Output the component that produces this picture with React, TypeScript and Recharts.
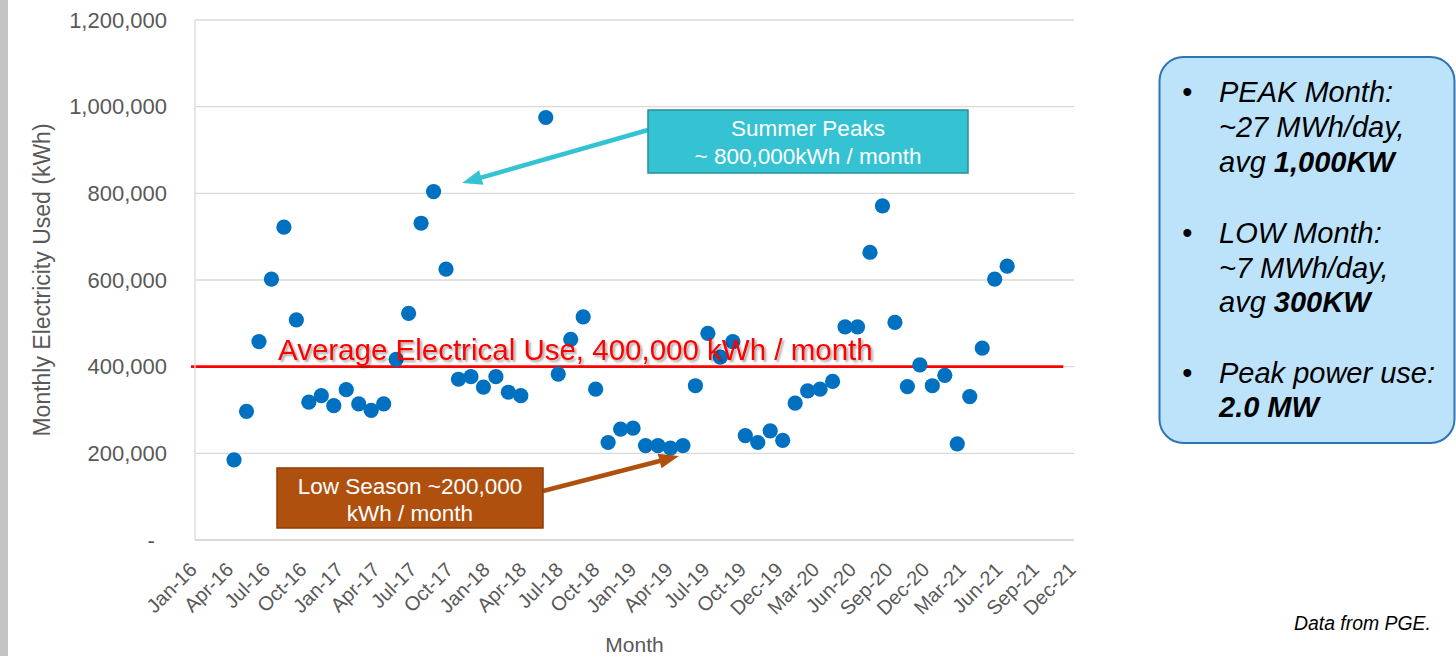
import React from 'react'
import {
  ScatterChart,
  Scatter,
  XAxis,
  YAxis,
  CartesianGrid,
  ReferenceLine,
} from 'recharts'

// axis tick labels (Excel date axis, evenly spaced)
const TICK_LABELS = [
  'Jan-16', 'Apr-16', 'Jul-16', 'Oct-16', 'Jan-17', 'Apr-17', 'Jul-17', 'Oct-17',
  'Jan-18', 'Apr-18', 'Jul-18', 'Oct-18', 'Jan-19', 'Apr-19', 'Jul-19', 'Oct-19',
  'Dec-19', 'Mar-20', 'Jun-20', 'Sep-20', 'Dec-20', 'Mar-21', 'Jun-21', 'Sep-21', 'Dec-21',
]
const Y_TICKS = [0, 200000, 400000, 600000, 800000, 1000000, 1200000]

// monthly bills, Apr-16 .. Jun-21 (Apr-18 has no reading)
const MONTHS = [
  'Apr-16', 'May-16', 'Jun-16', 'Jul-16', 'Aug-16', 'Sep-16', 'Oct-16', 'Nov-16', 'Dec-16',
  'Jan-17', 'Feb-17', 'Mar-17', 'Apr-17', 'May-17', 'Jun-17', 'Jul-17', 'Aug-17', 'Sep-17', 'Oct-17', 'Nov-17', 'Dec-17',
  'Jan-18', 'Feb-18', 'Mar-18', 'Apr-18', 'May-18', 'Jun-18', 'Jul-18', 'Aug-18', 'Sep-18', 'Oct-18', 'Nov-18', 'Dec-18',
  'Jan-19', 'Feb-19', 'Mar-19', 'Apr-19', 'May-19', 'Jun-19', 'Jul-19', 'Aug-19', 'Sep-19', 'Oct-19', 'Nov-19', 'Dec-19',
  'Jan-20', 'Feb-20', 'Mar-20', 'Apr-20', 'May-20', 'Jun-20', 'Jul-20', 'Aug-20', 'Sep-20', 'Oct-20', 'Nov-20', 'Dec-20',
  'Jan-21', 'Feb-21', 'Mar-21', 'Apr-21', 'May-21', 'Jun-21',
]
const USAGE_KWH = [
  185000, 297000, 458000, 602000, 722000, 508000, 318000, 333000, 310000,
  347000, 314000, 299000, 314000, 417000, 523000, 731000, 804000, 625000, 371000, 377000, 353000,
  377000, 341000, 333000, null, 975000, 383000, 463000, 515000, 348000, 225000, 256000, 258000,
  218000, 218000, 212000, 218000, 356000, 477000, 422000, 458000, 241000, 225000, 252000, 230000,
  316000, 344000, 348000, 366000, 492000, 492000, 664000, 771000, 502000, 354000, 404000, 356000,
  380000, 222000, 331000, 443000, 602000, 632000,
]
const FIRST_MONTH = 3 // Apr-16, counted in months from Jan-16
const AVERAGE_KWH = 400000

const X_MIN = -0.13
const X_MAX = 70.36
const X_TICKS = TICK_LABELS.map((_, i) => X_MIN + (i * (X_MAX - X_MIN)) / (TICK_LABELS.length - 1))

const chartData = MONTHS.map((month, i) => ({ month, m: FIRST_MONTH + i, kwh: USAGE_KWH[i] })).filter(
  (d) => d.kwh != null
)

const FONT = "'Liberation Sans', Arial, sans-serif"
const AXIS_GREY = '#595959'

function MonthTick(props: any) {
  const { x, y, payload } = props
  let idx = X_TICKS.indexOf(payload.value)
  if (idx < 0) idx = props.index
  const bx = x + 3
  const by = y + 31
  return (
    <text
      x={bx}
      y={by}
      transform={`rotate(-45, ${bx}, ${by})`}
      textAnchor="end"
      fill={AXIS_GREY}
      fontSize={20}
      fontFamily={FONT}
    >
      {TICK_LABELS[idx]}
    </text>
  )
}

function Arrow({ x1, y1, x2, y2, color, width = 4, head = 20, headW = 15 }: any) {
  const dx = x2 - x1
  const dy = y2 - y1
  const len = Math.hypot(dx, dy)
  const ux = dx / len
  const uy = dy / len
  const bx = x2 - ux * head
  const by = y2 - uy * head
  const px = -uy * (headW / 2)
  const py = ux * (headW / 2)
  return (
    <g>
      <line x1={x1} y1={y1} x2={bx + ux * 2} y2={by + uy * 2} stroke={color} strokeWidth={width} />
      <polygon points={`${x2},${y2} ${bx + px},${by + py} ${bx - px},${by - py}`} fill={color} />
    </g>
  )
}

export default function App() {
  return (
    <div style={{ position: 'absolute', left: 0, top: 0, width: 1456, height: 656, background: '#fff', fontFamily: FONT }}>
      <ScatterChart width={1456} height={656} margin={{ top: 20, right: 382, bottom: 0, left: 0 }}>
        <CartesianGrid vertical={false} stroke="#d9d9d9" strokeWidth={1.3} />
        <XAxis
          type="number"
          dataKey="m"
          domain={[X_MIN, X_MAX]}
          ticks={X_TICKS}
          interval={0}
          allowDataOverflow
          height={116}
          tickSize={0}
          tickMargin={0}
          tickLine={false}
          axisLine={{ stroke: '#d9d9d9', strokeWidth: 1.3 }}
          tick={<MonthTick />}
          label={{
            content: ({ viewBox }: any) => (
              <text
                x={viewBox.x + viewBox.width / 2}
                y={viewBox.y + 112}
                textAnchor="middle"
                fill={AXIS_GREY}
                fontSize={21}
                fontFamily={FONT}
              >
                Month
              </text>
            ),
          }}
        />
        <YAxis
          type="number"
          dataKey="kwh"
          domain={[0, 1200000]}
          ticks={Y_TICKS}
          interval={0}
          width={195}
          tickSize={0}
          tickMargin={28}
          tickLine={false}
          axisLine={{ stroke: '#d9d9d9', strokeWidth: 1.3 }}
          tick={{ fill: AXIS_GREY, fontSize: 22, fontFamily: FONT }}
          tickFormatter={(v: number) => (v === 0 ? '-\u00a0\u00a0' : v.toLocaleString('en-US'))}
          label={{
            content: ({ viewBox }: any) => {
              const cy = viewBox.y + viewBox.height / 2
              return (
                <text
                  x={50}
                  y={cy}
                  transform={`rotate(-90, 50, ${cy})`}
                  textAnchor="middle"
                  fill={AXIS_GREY}
                  fontSize={23}
                  fontFamily={FONT}
                >
                  Monthly Electricity Used (kWh)
                </text>
              )
            },
          }}
        />
        <Scatter
          data={chartData}
          isAnimationActive={false}
          fill="#0070C0"
          shape={(p: any) => <circle cx={p.cx} cy={p.cy} r={7.6} fill="#0070C0" />}
        />
        <ReferenceLine
          segment={[
            { x: -0.45, y: AVERAGE_KWH },
            { x: 69.5, y: AVERAGE_KWH },
          ]}
          ifOverflow="visible"
          stroke="#ff0000"
          strokeWidth={2.6}
        />
      </ScatterChart>

      <svg
        width={1456}
        height={656}
        style={{ position: 'absolute', left: 0, top: 0, pointerEvents: 'none' }}
        fontFamily={FONT}
      >
        <defs>
          <filter id="txtShadow" x="-5%" y="-30%" width="110%" height="170%">
            <feDropShadow dx="2" dy="2" stdDeviation="1.2" floodColor="#000" floodOpacity="0.35" />
          </filter>
        </defs>

        <rect x={0} y={0} width={8} height={656} fill="#c4c4c4" />

        <text x={278} y={360} fill="#ff0000" fontSize={29.5} filter="url(#txtShadow)">
          Average Electrical Use, 400,000 kWh / month
        </text>

        {/* summer peaks callout */}
        <Arrow x1={648} y1={130} x2={462} y2={183} color="#35C3D3" width={4.5} />
        <rect x={648} y={110} width={320} height={63} fill="#35C3D3" stroke="#2A8E9A" strokeWidth={1.5} />
        <text x={808} y={136} textAnchor="middle" fill="#fff" fontSize={22.5}>
          Summer Peaks
        </text>
        <text x={808} y={164} textAnchor="middle" fill="#fff" fontSize={22.5}>
          ~ 800,000kWh / month
        </text>

        {/* low season callout */}
        <Arrow x1={543} y1={491} x2={679} y2={456} color="#B0500F" width={4.5} />
        <rect x={277} y={468} width={266} height={60} fill="#B0500F" stroke="#8A3D0A" strokeWidth={1.5} />
        <text x={410} y={494} textAnchor="middle" fill="#fff" fontSize={22.5}>
          Low Season ~200,000
        </text>
        <text x={410} y={521} textAnchor="middle" fill="#fff" fontSize={22.5}>
          kWh / month
        </text>

        {/* summary box */}
        <rect x={1159.5} y={57} width={295} height={386} rx={24} fill="#BDE3FB" stroke="#2E75B6" strokeWidth={2} />
        <g fontSize={29} fontStyle="italic" fill="#000">
          <text x={1182} y={102}>•</text>
          <text x={1219} y={102}>PEAK Month:</text>
          <text x={1219} y={137}>~27 MWh/day,</text>
          <text x={1219} y={172}>
            avg <tspan fontWeight="bold">1,000KW</tspan>
          </text>
          <text x={1182} y={243}>•</text>
          <text x={1219} y={243}>LOW Month:</text>
          <text x={1219} y={278}>~7 MWh/day,</text>
          <text x={1219} y={312}>
            avg <tspan fontWeight="bold">300KW</tspan>
          </text>
          <text x={1182} y={383}>•</text>
          <text x={1219} y={383}>Peak power use:</text>
          <text x={1219} y={417} fontWeight="bold">
            2.0 MW
          </text>
        </g>

        <text x={1294} y={630} fontSize={19.4} fontStyle="italic" fill="#000">
          Data from PGE.
        </text>
      </svg>
    </div>
  )
}
